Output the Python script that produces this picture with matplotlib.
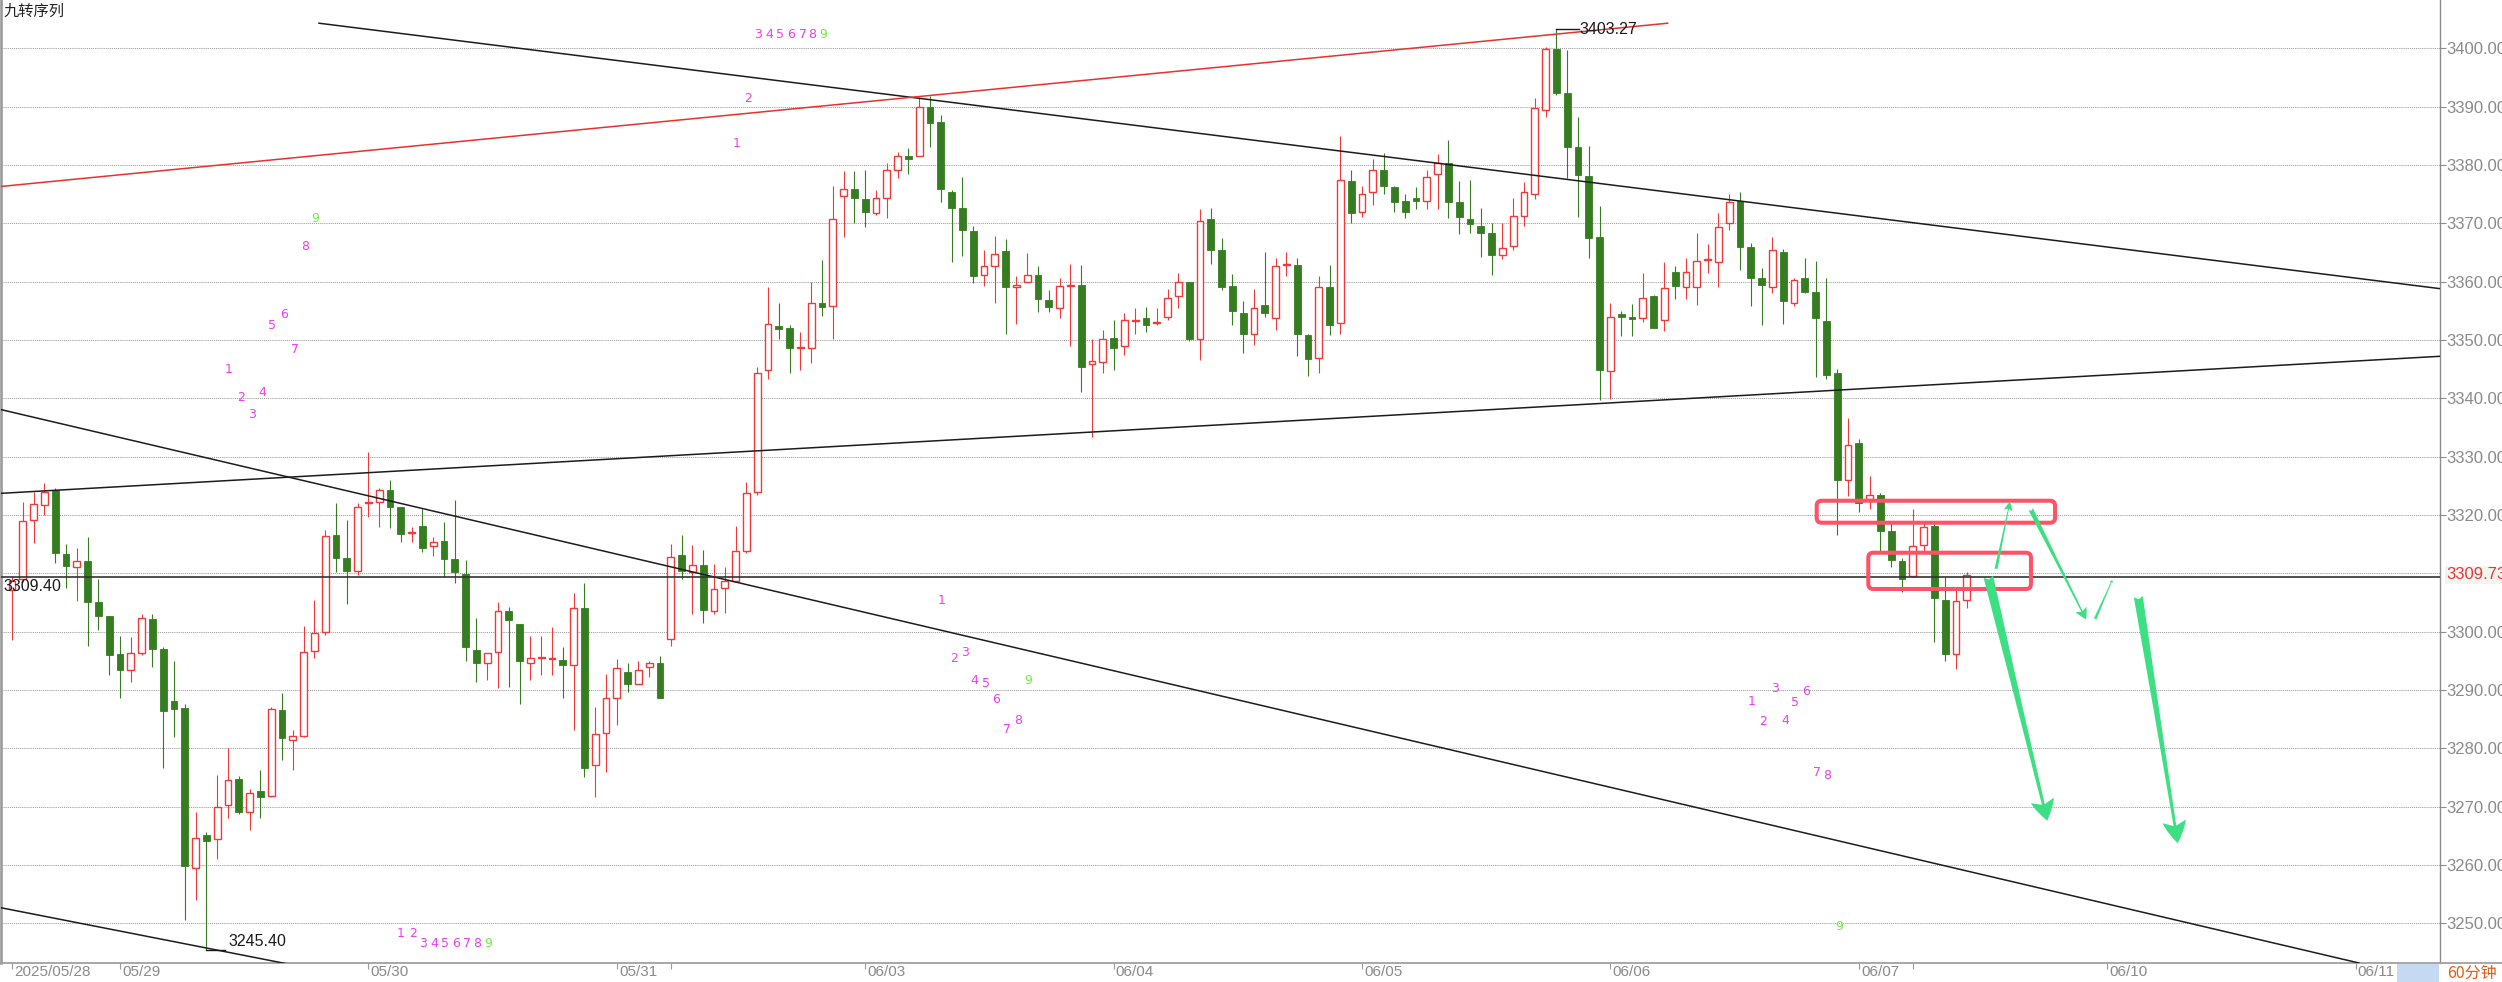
import matplotlib
matplotlib.use("Agg")
import matplotlib.pyplot as plt
from matplotlib.patches import FancyBboxPatch, Rectangle
from matplotlib.lines import Line2D

plt.rcParams['font.family'] = ['Liberation Sans', 'Noto Sans CJK SC', 'DejaVu Sans']

# 60 minute bars (one slot per bar, 0 = first bar of 2025/05/28)
opens = [
    3307.1, 3309.0, 3319.2, 3321.7, 3324.3, 3313.3, 3311.1, 3312.1, 3305.1, 3302.6,
    3296.2, 3293.5, 3296.4, 3302.2, 3297.0, 3288.1, 3286.9, 3259.5, 3265.1, 3264.4,
    3270.3, 3274.7, 3269.0, 3272.6, 3271.8, 3286.6, 3281.5, 3282.1, 3296.7, 3300.0,
    3316.6, 3312.7, 3310.4, 3322.0, 3322.3, 3324.3, 3321.3, 3316.9, 3318.1, 3314.6,
    3315.6, 3312.4, 3309.8, 3296.9, 3294.6, 3296.5, 3303.6, 3301.3, 3294.7, 3295.5,
    3295.3, 3295.1, 3294.3, 3304.0, 3277.1, 3282.7, 3288.7, 3293.0, 3291.0, 3293.9,
    3294.7, 3298.7, 3313.1, 3310.3, 3311.4, 3303.6, 3307.4, 3308.7, 3313.9, 3324.0,
    3344.9, 3352.4, 3352.0, 3348.6, 3348.7, 3356.3, 3355.9, 3374.6, 3375.9, 3374.2,
    3371.7, 3374.4, 3379.2, 3381.5, 3381.5, 3389.9, 3387.3, 3375.3, 3372.7, 3368.7,
    3361.2, 3362.7, 3365.2, 3359.0, 3359.9, 3361.2, 3356.9, 3355.4, 3359.3, 3359.4,
    3345.8, 3346.3, 3350.4, 3348.9, 3353.3, 3353.7, 3352.9, 3354.0, 3357.5, 3360.0,
    3350.1, 3370.7, 3365.4, 3359.2, 3354.6, 3351.0, 3356.0, 3353.8, 3362.9, 3362.9,
    3350.9, 3346.9, 3359.0, 3352.9, 3377.3, 3371.9, 3375.3, 3379.2, 3376.2, 3373.8,
    3374.4, 3373.8, 3378.4, 3380.4, 3373.7, 3370.7, 3369.6, 3368.4, 3364.6, 3366.1,
    3371.2, 3375.1, 3389.4, 3399.8, 3392.3, 3383.1, 3378.1, 3367.6, 3344.7, 3354.5,
    3354.0, 3353.7, 3357.6, 3353.5, 3361.7, 3359.1, 3359.0, 3363.7, 3363.3, 3370.0,
    3373.8, 3365.9, 3360.7, 3359.1, 3365.1, 3356.3, 3360.6, 3358.2, 3353.3, 3344.4,
    3326.0, 3332.4, 3322.7, 3323.4, 3317.3, 3312.1, 3309.5, 3314.8, 3318.1, 3305.4,
    3296.1, 3305.5]
highs = [
    3309.5, 3322.3, 3324.0, 3325.4, 3324.7, 3315.0, 3314.4, 3316.2, 3309.0, 3302.7,
    3299.2, 3299.0, 3303.0, 3303.1, 3297.4, 3295.0, 3287.6, 3269.1, 3265.7, 3275.4,
    3280.0, 3275.3, 3273.1, 3276.3, 3287.1, 3289.4, 3283.2, 3300.9, 3305.4, 3317.4,
    3322.0, 3319.2, 3322.0, 3330.8, 3324.6, 3326.0, 3321.3, 3318.0, 3321.1, 3316.2,
    3318.8, 3322.6, 3312.3, 3302.3, 3296.3, 3305.0, 3304.2, 3301.3, 3299.2, 3299.2,
    3300.8, 3297.3, 3306.6, 3308.3, 3287.1, 3292.7, 3295.3, 3294.7, 3294.9, 3295.0,
    3295.8, 3315.0, 3316.6, 3314.8, 3314.0, 3311.6, 3311.0, 3318.1, 3325.7, 3345.4,
    3359.0, 3356.4, 3352.6, 3351.3, 3360.0, 3363.7, 3376.4, 3378.9, 3378.9, 3379.2,
    3375.7, 3380.3, 3382.3, 3382.9, 3391.7, 3391.9, 3388.6, 3375.7, 3378.0, 3369.6,
    3365.4, 3367.9, 3367.3, 3360.9, 3364.9, 3362.7, 3358.6, 3360.6, 3363.0, 3362.9,
    3350.2, 3351.7, 3353.5, 3354.6, 3355.4, 3355.6, 3355.4, 3358.7, 3361.5, 3360.0,
    3372.4, 3372.7, 3367.5, 3361.3, 3356.6, 3358.7, 3365.1, 3364.0, 3365.0, 3364.0,
    3351.0, 3360.9, 3362.9, 3384.9, 3379.1, 3376.4, 3381.0, 3382.1, 3376.4, 3375.0,
    3376.3, 3379.1, 3381.8, 3384.3, 3377.3, 3377.4, 3372.7, 3370.0, 3370.0, 3374.4,
    3377.0, 3391.4, 3400.3, 3403.27, 3399.7, 3388.2, 3383.3, 3373.0, 3356.3, 3354.9,
    3356.2, 3361.4, 3357.7, 3363.3, 3362.6, 3364.1, 3368.4, 3366.4, 3371.7, 3375.0,
    3375.4, 3366.7, 3362.3, 3367.6, 3365.6, 3360.7, 3364.0, 3363.6, 3360.7, 3345.0,
    3336.6, 3333.0, 3326.6, 3323.8, 3318.6, 3312.6, 3321.0, 3318.7, 3318.7, 3309.4,
    3307.1, 3310.3]
lows = [
    3298.6, 3308.5, 3315.2, 3320.0, 3311.8, 3307.4, 3305.3, 3297.6, 3300.3, 3292.6,
    3288.7, 3291.4, 3296.0, 3293.9, 3276.7, 3282.0, 3250.6, 3254.0, 3245.4, 3261.1,
    3268.0, 3268.8, 3266.0, 3268.0, 3271.6, 3278.0, 3276.2, 3281.9, 3295.4, 3299.4,
    3310.3, 3304.7, 3309.7, 3319.7, 3318.0, 3317.7, 3315.4, 3315.4, 3313.7, 3312.9,
    3309.4, 3308.3, 3294.9, 3291.4, 3291.7, 3290.3, 3290.5, 3287.6, 3291.7, 3292.6,
    3292.6, 3288.6, 3283.1, 3275.1, 3271.7, 3275.9, 3284.0, 3289.6, 3291.0, 3292.3,
    3288.6, 3297.6, 3309.1, 3303.1, 3301.5, 3303.0, 3303.2, 3308.6, 3313.5, 3323.5,
    3343.3, 3350.1, 3344.4, 3344.9, 3346.1, 3354.1, 3350.1, 3367.6, 3370.0, 3369.3,
    3371.4, 3370.9, 3377.8, 3378.4, 3381.5, 3383.1, 3373.7, 3363.3, 3364.4, 3359.8,
    3359.3, 3356.4, 3351.1, 3352.7, 3359.9, 3354.8, 3354.8, 3353.7, 3349.0, 3341.0,
    3333.3, 3344.3, 3344.9, 3347.4, 3351.0, 3351.4, 3352.6, 3353.5, 3355.4, 3349.9,
    3346.5, 3363.1, 3358.5, 3352.6, 3347.8, 3349.1, 3354.0, 3351.7, 3360.9, 3347.3,
    3343.8, 3344.3, 3350.9, 3351.1, 3370.0, 3371.0, 3373.1, 3375.0, 3371.9, 3370.9,
    3372.4, 3372.4, 3372.4, 3370.9, 3368.2, 3368.3, 3364.3, 3361.1, 3363.8, 3365.4,
    3369.6, 3374.1, 3388.2, 3392.0, 3377.7, 3371.1, 3364.0, 3339.7, 3339.8, 3350.7,
    3350.7, 3353.1, 3352.1, 3351.5, 3357.1, 3357.1, 3356.0, 3361.5, 3359.0, 3368.8,
    3362.0, 3355.8, 3352.6, 3358.1, 3352.7, 3355.8, 3358.0, 3343.7, 3343.3, 3316.6,
    3323.2, 3320.5, 3321.1, 3313.7, 3311.0, 3306.8, 3309.4, 3313.7, 3298.3, 3294.9,
    3293.6, 3304.1]
closes = [
    3308.6, 3319.0, 3321.8, 3324.0, 3313.4, 3311.2, 3312.1, 3305.1, 3302.6, 3296.0,
    3293.5, 3296.4, 3302.3, 3297.0, 3286.4, 3286.8, 3259.8, 3264.7, 3264.1, 3270.0,
    3274.5, 3269.0, 3272.4, 3271.6, 3286.7, 3281.7, 3282.1, 3296.5, 3299.7, 3316.4,
    3312.7, 3310.4, 3321.4, 3322.1, 3324.3, 3321.3, 3316.7, 3317.1, 3314.4, 3315.4,
    3312.4, 3310.3, 3297.4, 3294.6, 3296.3, 3303.6, 3302.0, 3295.0, 3295.5, 3295.6,
    3295.4, 3294.2, 3304.0, 3276.7, 3282.4, 3288.6, 3293.7, 3291.0, 3293.5, 3294.7,
    3288.6, 3312.8, 3310.4, 3311.4, 3303.7, 3307.3, 3308.7, 3313.8, 3323.7, 3344.3,
    3352.7, 3351.9, 3348.6, 3348.7, 3356.3, 3355.6, 3370.7, 3375.9, 3374.4, 3371.9,
    3374.4, 3379.2, 3381.5, 3381.0, 3390.0, 3387.2, 3375.9, 3372.7, 3368.9, 3361.0,
    3362.6, 3364.8, 3359.1, 3359.4, 3361.2, 3357.0, 3355.7, 3359.3, 3359.5, 3345.4,
    3346.4, 3350.1, 3348.6, 3353.4, 3353.5, 3352.6, 3353.0, 3357.2, 3360.0, 3350.1,
    3370.4, 3365.5, 3359.1, 3354.9, 3351.1, 3355.4, 3354.7, 3362.6, 3363.0, 3351.0,
    3346.7, 3359.0, 3352.6, 3377.5, 3371.7, 3375.0, 3379.2, 3376.4, 3373.7, 3372.0,
    3373.8, 3378.0, 3380.4, 3373.7, 3371.0, 3369.9, 3368.4, 3364.5, 3365.7, 3371.3,
    3375.3, 3389.8, 3399.8, 3392.3, 3383.0, 3378.2, 3367.5, 3344.9, 3354.0, 3353.9,
    3353.6, 3357.2, 3352.1, 3358.9, 3359.3, 3361.7, 3363.6, 3363.8, 3369.4, 3373.6,
    3366.0, 3360.7, 3359.5, 3365.5, 3356.6, 3360.3, 3358.3, 3353.7, 3344.0, 3326.0,
    3332.0, 3322.0, 3323.4, 3317.3, 3312.3, 3309.0, 3314.7, 3318.0, 3305.7, 3296.1,
    3305.3, 3309.73]

# date ticks (bar slot -> label)
tick_bars = [0, 10, 33, 56, 61, 79, 102, 125, 148, 171, 176, 194, 217]
tick_labels = ['2025/05/28', '05/29', '05/30', '05/31', '', '06/03', '06/04',
               '06/05', '06/06', '06/07', '', '06/10', '06/11']

price_levels = [3250, 3260, 3270, 3280, 3290, 3300, 3310, 3320, 3330, 3340,
                3350, 3360, 3370, 3380, 3390, 3400]
last_price = 3309.73
hline_price = 3309.40
left_label_price = 3307.8
high_bar, high_price = 143, 3403.27
low_bar, low_price = 18, 3245.40

# trend lines drawn on the chart: [start, end] in (bar, price)
line_x = [[28.43, 224.8], [-1.11, 153.3], [-1.11, 217.3], [-1.11, 224.8], [-1.11, 27.0]]
line_y = [[3404.3, 3358.8], [3376.3, 3404.3], [3338.1, 3243.2], [3323.7, 3347.2], [3252.7, 3242.5]]
line_colors = ['#1c1c1c', '#e8322e', '#1c1c1c', '#1c1c1c', '#1c1c1c']

# 九转 counts
td_x = [20.1, 21.2, 22.2, 23.2, 24.1, 25.2, 26.2, 27.1, 28.1,
        36.0, 37.1, 38.1, 39.1, 40.1, 41.1, 42.1, 43.1, 44.1,
        67.1, 68.2, 69.1, 70.1, 71.1, 72.1, 73.2, 74.1, 75.1,
        86.1, 87.2, 88.2, 89.1, 90.2, 91.1, 92.1, 93.2, 94.1,
        161.1, 162.1, 163.2, 164.2, 165.1, 166.1, 167.1, 168.1, 169.2]
td_y = [3345.0, 3340.2, 3337.3, 3341.0, 3352.4, 3354.4, 3348.3, 3366.1, 3370.9,
        3248.3, 3248.3, 3246.6, 3246.6, 3246.6, 3246.6, 3246.6, 3246.6, 3246.6,
        3383.7, 3391.4, 3402.3, 3402.3, 3402.3, 3402.3, 3402.3, 3402.3, 3402.3,
        3305.4, 3295.4, 3296.4, 3291.7, 3291.1, 3288.3, 3283.3, 3284.8, 3291.7,
        3288.0, 3284.6, 3290.2, 3284.8, 3287.9, 3289.8, 3275.9, 3275.4, 3249.4]
td_n = [1, 2, 3, 4, 5, 6, 7, 8, 9] * 5

# hand drawn boxes [x0, x1], [y0, y1]
box_x = [[167.10, 189.17], [171.88, 186.94]]
box_y = [[3318.67, 3322.44], [3307.31, 3313.53]]

# hand drawn arrows [tail, tip]; sizes in points: head length, head width, tail width
arrow_x = [[182.99, 188.45], [183.70, 185.00], [186.92, 192.04], [192.87, 194.47], [196.88, 200.53]]
arrow_y = [[3309.42, 3267.59], [3310.68, 3322.27], [3320.97, 3302.11], [3302.11, 3308.85], [3305.99, 3263.71]]
arrow_size = [(15, 17, 7), (6.5, 6, 2.2), (8, 8.5, 3.5), (2, 2.5, 2), (16, 17, 6.5)]

# ---------------------------------------------------------------- layout
W, H = 2502, 982
fig = plt.figure(figsize=(W / 100, H / 100), dpi=100)
L, R, B = 1.35, 2440.3, 963.3
ax = fig.add_axes([L / W, (H - B) / H, (R - L) / W, B / H])
slot, x0px = 10.8, 12.0
ppu, y3400 = 875 / 150, 48.3
ax.set_xlim((L - x0px) / slot, (R - x0px) / slot)
ax.set_ylim(3400 - (B - y3400) / ppu, 3400 + y3400 / ppu)

up_col = '#f03a3a'
dn_col = '#367d22'

# grid
for p in price_levels:
    ax.axhline(p, color='#9c9c9c', lw=0.75, ls=(0, (1, 1)), zorder=1)

# candles
for i, (o, h, l, c) in enumerate(zip(opens, highs, lows, closes)):
    up = c >= o
    col = up_col if up else dn_col
    ax.vlines(i, l, h, color=col, lw=0.8, zorder=3)
    lo, hi = min(o, c), max(o, c)
    hgt = max(hi - lo, 0.18)
    if up:
        ax.bar(i, hgt, 0.62, bottom=lo, facecolor='white', edgecolor=col, lw=1.0, zorder=4)
    else:
        ax.bar(i, hgt, 0.62, bottom=lo, facecolor=col, edgecolor=col, lw=0.6, zorder=4)

# trend lines
for xs, ys, col in zip(line_x, line_y, line_colors):
    ax.plot(xs, ys, color=col, lw=1.1, zorder=5)

# horizontal line and its label
ax.axhline(hline_price, color='#333333', lw=1.2, zorder=5)
ax.text(-0.78, left_label_price, '%.2f' % hline_price, fontsize=11.5, color='#1a1a1a',
        ha='left', va='center', zorder=7)

# high / low marks
ax.plot([high_bar, high_bar + 2.1], [high_price, high_price], color='#1a1a1a', lw=1.0, zorder=6)
ax.text(high_bar + 2.15, high_price, '%.2f' % high_price, fontsize=11.5, color='#1a1a1a',
        ha='left', va='center', zorder=7)
ax.plot([low_bar, low_bar + 1.76], [low_price, low_price], color='#1a1a1a', lw=1.0, zorder=6)
ax.text(low_bar + 2.06, low_price + 1.45, '%.2f' % low_price, fontsize=11.5, color='#1a1a1a',
        ha='left', va='center', zorder=7)

# counts
for x, y, n in zip(td_x, td_y, td_n):
    ax.text(x, y, str(n), fontsize=9, family=['DejaVu Sans'], ha='center', va='center',
            color='#70ee3c' if n == 9 else '#f23cf2', zorder=6)

# boxes
asp = (5 / ppu) / (5 / slot)
for xs, ys in zip(box_x, box_y):
    ax.add_patch(FancyBboxPatch((xs[0], ys[0]), xs[1] - xs[0], ys[1] - ys[0],
                                boxstyle='round,pad=0,rounding_size=0.46', mutation_aspect=asp,
                                fill=False, edgecolor='#ff5266', lw=2.9, zorder=8))

# arrows
for xs, ys, (hl, hw, tw) in zip(arrow_x, arrow_y, arrow_size):
    ax.annotate('', xy=(xs[1], ys[1]), xytext=(xs[0], ys[0]),
                arrowprops=dict(arrowstyle='fancy,head_length=%s,head_width=%s,tail_width=%s' % (hl, hw, tw),
                                fc='#3ce083', ec='none', shrinkA=0, shrinkB=0, mutation_scale=1),
                zorder=9)

# axes styling
for s in ['top']:
    ax.spines[s].set_visible(False)
ax.spines['left'].set_color('#9a9a9a')
ax.spines['left'].set_linewidth(1.9)
ax.spines['bottom'].set_color('#a0a0a0')
ax.spines['bottom'].set_linewidth(1.3)
ax.spines['right'].set_color('#8c8c8c')
ax.spines['right'].set_linewidth(1.0)

ax.yaxis.tick_right()
yt = [p for p in price_levels if p != 3310]
ax.set_yticks(yt)
ax.set_yticklabels(['%.2f' % p for p in yt])
ax.tick_params(axis='y', direction='out', length=4.3, width=0.8, color='#8c8c8c',
               labelcolor='#8a8a8a', labelsize=12, pad=0.3)
ax.annotate('%.2f' % last_price, xy=(1, last_price), xycoords=('axes fraction', 'data'),
            xytext=(4.6, 0), textcoords='offset points', fontsize=12, color='#e8383c',
            ha='left', va='center', annotation_clip=False,
            bbox=dict(boxstyle='square,pad=0.1', facecolor='#f1f5ee', edgecolor='none'))

ax.set_xticks(tick_bars)
ax.set_xticklabels([])
ax.tick_params(axis='x', direction='out', length=4.3, width=0.8, color='#999999')
for b, lab in zip(tick_bars, tick_labels):
    ax.annotate(lab, xy=(b, 0), xycoords=('data', 'axes fraction'), xytext=(1.5, -1.5),
                textcoords='offset points', ha='left', va='top', fontsize=11,
                color='#8a8a8a', annotation_clip=False)

# corner pieces
fig.add_artist(Line2D([R / W, 1], [(H - B) / H] * 2, color='#a0a0a0', lw=1.3))
fig.add_artist(Rectangle((2396.7 / W, 0), (2439.3 - 2396.7) / W, (H - B) / H - 0.001,
                         transform=fig.transFigure, facecolor='#c6d9f3', edgecolor='none'))
fig.text(2446.7 / W, (H - 973.5) / H, '60分钟', fontsize=11.5, color='#e05a17',
         ha='left', va='center', family=['Noto Sans CJK SC', 'DejaVu Sans'])
fig.text(3 / W, 1 - 3 / H, '九转序列', fontsize=11, color='#222222', ha='left', va='top',
         family=['Noto Sans CJK SC', 'DejaVu Sans'])

fig.savefig('out.png', dpi=100)
